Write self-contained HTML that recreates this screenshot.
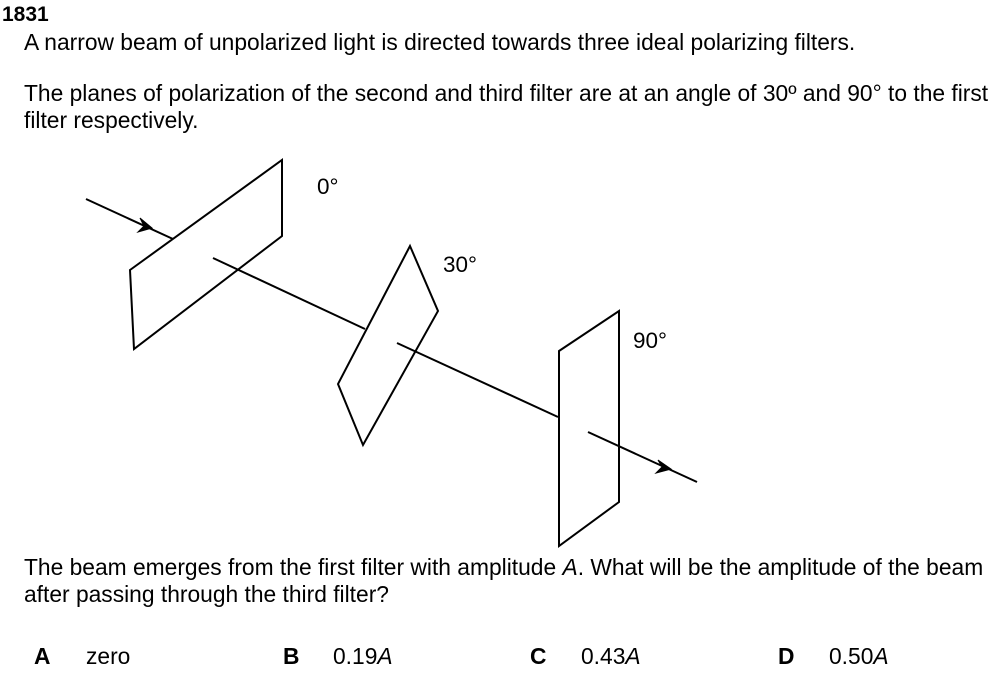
<!DOCTYPE html>
<html><head><style>
body{margin:0;width:1001px;height:688px;background:#fff;font-family:"Liberation Sans",Arial,sans-serif;color:#000;position:relative;overflow:hidden}
.t{position:absolute;font-size:22.8px;line-height:24px;white-space:nowrap}
</style></head><body>
<div class="t" style="left:2px;top:3px;font-weight:bold;font-size:21px">1831</div>
<div class="t" style="left:24px;top:30px">A narrow beam of unpolarized light is directed towards three ideal polarizing filters.</div>
<div class="t" style="left:24px;top:81px">The planes of polarization of the second and third filter are at an angle of 30º and 90° to the first</div>
<div class="t" style="left:24px;top:108px">filter respectively.</div>
<svg width="1001" height="688" style="position:absolute;left:0;top:0" fill="none" stroke="#000" stroke-width="2">
<polygon points="130,270 282,160 282,236 134,349"/>
<line x1="86" y1="199" x2="173" y2="239"/>
<polygon points="152,228 140,218 144,226 138,232" fill="#000" stroke-width="1"/>
<line x1="213" y1="258" x2="365" y2="329"/>
<polygon points="410,246 438,311 363,445 338,384"/>
<line x1="397" y1="343" x2="558" y2="417"/>
<polygon points="559,351 619,311 619,502 559,546"/>
<line x1="588" y1="432" x2="697" y2="482"/>
<polygon points="671,469 658,460 662,467 656,473" fill="#000" stroke-width="1"/>
<g fill="#000" stroke="none" font-family="Liberation Sans, Arial, sans-serif" font-size="22.5">
<text x="317" y="194">0°</text>
<text x="443" y="272">30°</text>
<text x="633" y="348">90°</text>
</g>
</svg>
<div class="t" style="left:24px;top:555px">The beam emerges from the first filter with amplitude <i>A</i>. What will be the amplitude of the beam</div>
<div class="t" style="left:24px;top:582px">after passing through the third filter?</div>
<div class="t" style="left:34px;top:644px;font-weight:bold">A</div>
<div class="t" style="left:86px;top:644px">zero</div>
<div class="t" style="left:283px;top:644px;font-weight:bold">B</div>
<div class="t" style="left:333px;top:644px">0.19<i>A</i></div>
<div class="t" style="left:530px;top:644px;font-weight:bold">C</div>
<div class="t" style="left:581px;top:644px">0.43<i>A</i></div>
<div class="t" style="left:778px;top:644px;font-weight:bold">D</div>
<div class="t" style="left:829px;top:644px">0.50<i>A</i></div>
</body></html>
